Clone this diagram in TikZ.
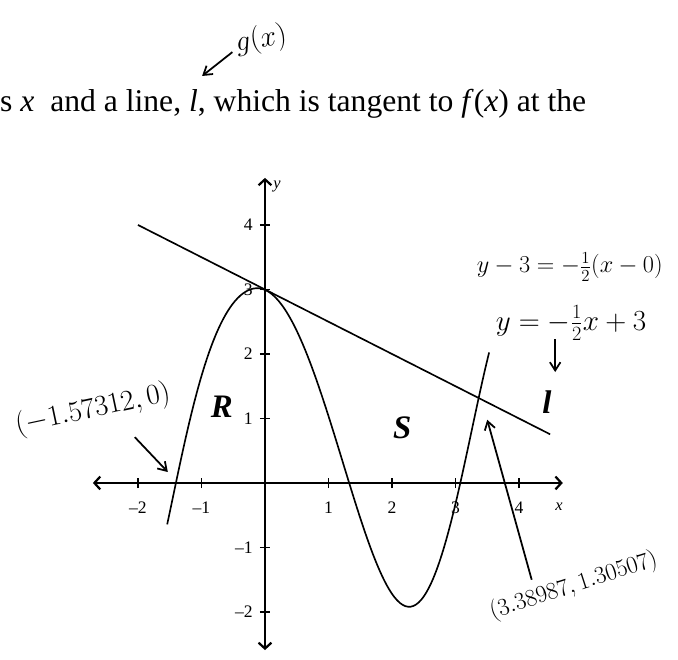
\documentclass[tikz,border=0pt]{standalone}
\usepackage{fontspec}
\setmainfont{Liberation Serif}
\usetikzlibrary{arrows.meta, positioning, calc}

\begin{document}
\begin{tikzpicture}[x=1.905cm, y=1.935cm,
  axisline/.style={line width=1.9pt, {Straight Barb[length=5pt,width=11pt]}-{Straight Barb[length=5pt,width=11pt]}},
  tickmark/.style={line width=1.4pt},
  ticklabel/.style={font=\fontsize{15}{15}\selectfont, inner sep=0pt},
  graphline/.style={line width=1.4pt},
  regionlabel/.style={font=\fontsize{28}{28}\selectfont\bfseries\itshape, inner sep=0pt},
  hand/.style={inner sep=0pt, font=\fontsize{24}{24}\selectfont},
  handarrow/.style={line width=1.5pt, -{Straight Barb[length=7pt,width=9pt]}}]
  \useasboundingbox (-4.173,-2.744) rectangle (6.504,7.488);

  % Question text (cut off on the left)
  \node[anchor=base west, inner sep=0pt, font=\fontsize{27}{30}\selectfont] (question)
    at (-4.173,5.757) {s \textit{x}\ \ and a line, \textit{l}, which is tangent to \textit{f}(\textit{x}) at the};
  \node[hand, rotate=10] (gname) at (-0.06,6.87) {$g(x)$};
  \coordinate (gtip) at (-0.99,6.31);
  \draw[handarrow] (gname.west) ++(-0.05,-0.12) -- (gtip);

  % Axes
  \draw[axisline] (-2.71,0) -- (4.69,0);
  \draw[axisline] (0,-2.59) -- (0,4.73);
  \node[ticklabel, font=\fontsize{14}{14}\selectfont\itshape] (xname) at (4.63,-0.37) {x};
  \node[ticklabel, font=\fontsize{14}{14}\selectfont\itshape] (yname) at (0.19,4.59) {y};
  \foreach \k/\t in {-2/\textendash2, -1/\textendash1, 1/1, 2/2, 3/3, 4/4} {
    \draw[tickmark] (\k,-0.078) -- (\k,0.078);
    \node[ticklabel] (xl\k) at (\k,-0.39) {\t};
  }
  \foreach \k/\t in {-2/\textendash2, -1/\textendash1, 1/1, 2/2, 3/3, 4/4} {
    \draw[tickmark] (-0.079,\k) -- (0.079,\k);
    \node[ticklabel, anchor=east] (yl\k) at (-0.19,\k) {\t};
  }

  % f(x) and the tangent line l
  \draw[graphline] plot[smooth, domain=-1.54:3.53, samples=120]
    (\x, {0.55+2.47*cos(deg(ifthenelse(\x<-0.12,
      1.128*(\x+0.12)+0.165*(\x+0.12)*(\x+0.12)*(\x+0.12),
      1.2*(\x+0.12)+0.02*(\x+0.12)*(\x+0.12)*(\x+0.12))))});
  \coordinate (lstart) at (-2,4);
  \coordinate (lend) at (4.49,0.755);
  \draw[graphline] (lstart) -- (lend);

  % Region labels
  \node[regionlabel] (rlabel) at (-0.68,1.18) {R};
  \node[regionlabel] (slabel) at (2.16,0.85) {S};
  \node[regionlabel] (llabel) at (4.44,1.26) {l};

  % Handwritten notes
  \node[hand, rotate=12] (zeronote) at (-2.71,1.13) {$(-1.57312,0)$};
  \coordinate (zerotail) at (-2.05,0.71);
  \coordinate (zerotip) at (-1.53,0.17);
  \draw[handarrow] (zerotail) -- (zerotip);

  \node[hand, font=\fontsize{21}{21}\selectfont] (pointslope) at (4.80,3.35) {$y-3=-\frac{1}{2}(x-0)$};
  \node[hand] (slopeint) at (4.82,2.48) {$y=-\frac{1}{2}x+3$};
  \coordinate (downtail) at (4.57,2.23);
  \coordinate (downtip) at (4.57,1.72);
  \draw[handarrow] (downtail) -- (downtip);

  \node[hand, font=\fontsize{22}{22}\selectfont, rotate=18] (crossnote) at (4.86,-1.60) {$(3.38987,1.30507)$};
  \coordinate (crosstail) at (4.20,-1.50);
  \coordinate (crosstip) at (3.50,0.98);
  \draw[handarrow] (crosstail) -- (crosstip);
\end{tikzpicture}
\end{document}
